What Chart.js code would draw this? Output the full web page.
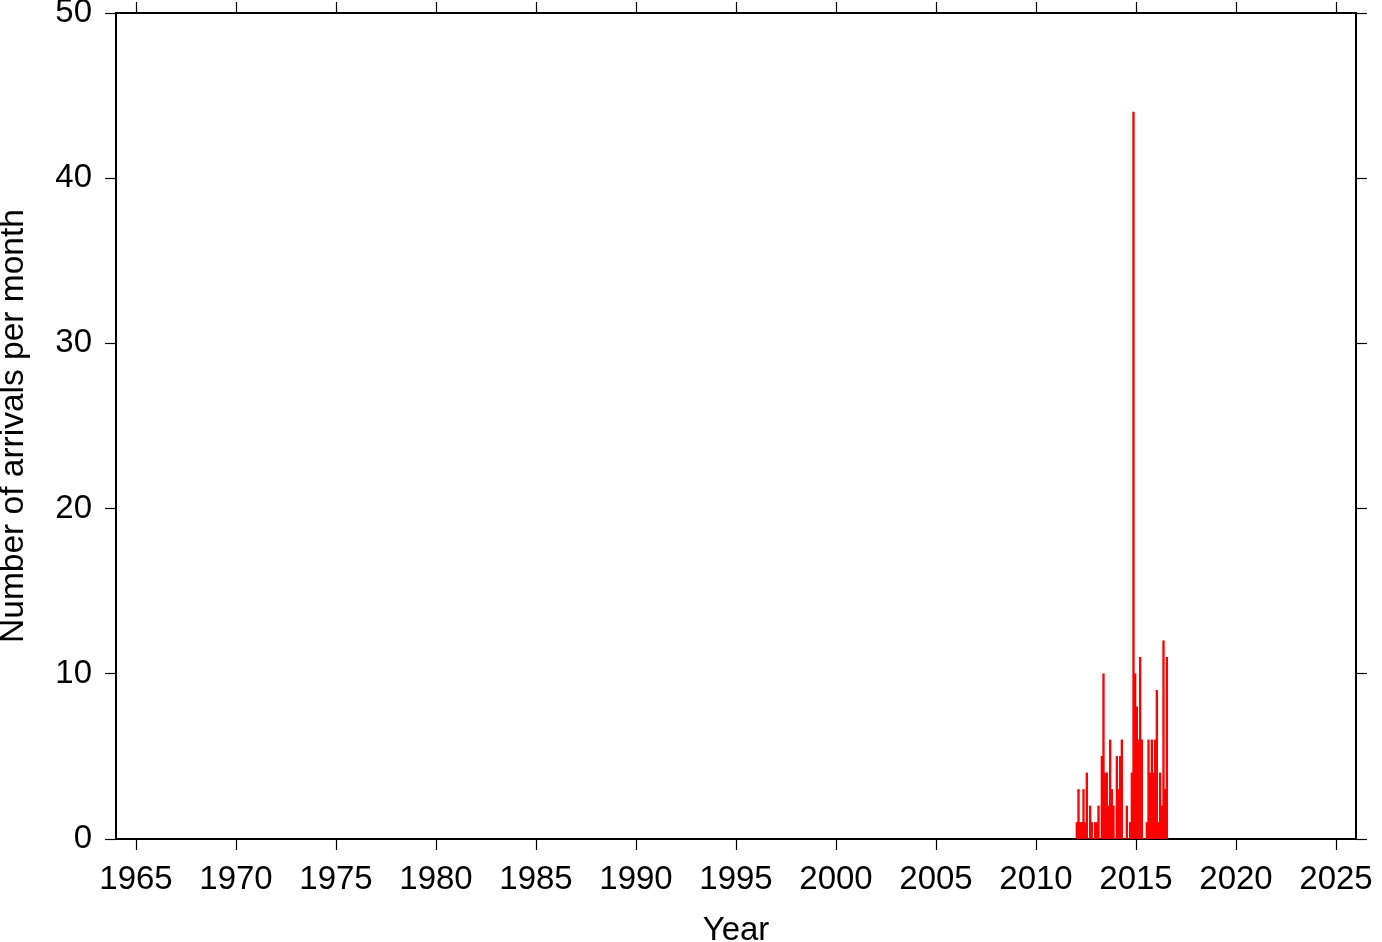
<!DOCTYPE html>
<html>
<head>
<meta charset="utf-8">
<script src="https://cdn.jsdelivr.net/npm/chart.js@4/dist/chart.umd.min.js"></script>
<style>
  html, body { margin: 0; padding: 0; background: #fff; }
  #wrap { width: 1382px; height: 942px; }
</style>
</head>
<body>
<div id="wrap"><canvas id="c" width="1382" height="942"></canvas></div>
<script>
// Months (YYYY-MM) with the number of arrivals per month
const months = [
  "2012-01","2012-02","2012-03","2012-04","2012-05","2012-06","2012-07","2012-08","2012-09","2012-10","2012-11","2012-12",
  "2013-01","2013-02","2013-03","2013-04","2013-05","2013-06","2013-07","2013-08","2013-09","2013-10","2013-11","2013-12",
  "2014-01","2014-02","2014-03","2014-04","2014-05","2014-06","2014-07","2014-08","2014-09","2014-10","2014-11","2014-12",
  "2015-01","2015-02","2015-03","2015-04","2015-05","2015-06","2015-07","2015-08","2015-09","2015-10","2015-11","2015-12",
  "2016-01","2016-02","2016-03","2016-04","2016-05","2016-06","2016-07"
];
const arrivals = [
  1, 3, 1, 1, 3, 1, 4, 0, 2, 1, 0, 1,
  1, 2, 0, 5, 10, 4, 4, 2, 6, 3, 2, 0,
  5, 3, 5, 6, 0, 0, 2, 0, 1, 4, 44, 10,
  8, 6, 11, 6, 0, 0, 1, 6, 4, 6, 4, 6,
  9, 1, 4, 2, 12, 3, 11
];
const xTickValues = [1965, 1970, 1975, 1980, 1985, 1990, 1995, 2000, 2005, 2010, 2015, 2020, 2025];
const yTickValues = [0, 10, 20, 30, 40, 50];
const xMin = 1964, xMax = 2026;
const yMin = 0, yMax = 50;

const points = months.map((m, i) => {
  const [yy, mm] = m.split("-").map(Number);
  return { x: yy + (mm - 0.5) / 12, y: arrivals[i] };
});

const FONT = "'Liberation Sans', Arial, Helvetica, sans-serif";
const setTicks = vals => scale => { scale.ticks = vals.map(v => ({ value: v })); };
const fixSize = (prop, val) => s => {
  s[prop] = val;
  s.paddingTop = 0; s.paddingBottom = 0; s.paddingLeft = 0; s.paddingRight = 0;
};

const gridOpts = {
  drawOnChartArea: false,
  drawTicks: true,
  offset: false,
  tickLength: 11,
  tickWidth: 1.2,
  tickColor: "#000",
  color: "#000"
};
const borderOpts = { display: true, color: "#000", width: 2 };

new Chart(document.getElementById("c"), {
  type: "bar",
  data: {
    datasets: [{
      data: points,
      backgroundColor: "#ff0000",
      borderWidth: 0,
      barPercentage: 1,
      categoryPercentage: 1,
      xAxisID: "x",
      yAxisID: "y"
    }]
  },
  options: {
    responsive: false,
    animation: false,
    devicePixelRatio: 1,
    layout: { padding: 0 },
    plugins: { legend: { display: false }, tooltip: { enabled: false } },
    scales: {
      x: {
        type: "linear", position: "bottom", min: xMin, max: xMax, offset: false,
        afterBuildTicks: setTicks(xTickValues),
        afterFit: fixSize("height", 103),
        grid: gridOpts, border: borderOpts,
        ticks: { color: "#000", padding: 10, maxRotation: 0, autoSkip: false,
                 font: { family: FONT, size: 33 }, callback: v => String(v) },
        title: { display: true, text: "Year", color: "#000", padding: 0,
                 font: { family: FONT, size: 33, lineHeight: 0.7 } }
      },
      x2: {
        type: "linear", position: "top", min: xMin, max: xMax, offset: false,
        afterBuildTicks: setTicks(xTickValues),
        afterFit: fixSize("height", 13),
        grid: gridOpts, border: borderOpts,
        ticks: { display: false }
      },
      y: {
        type: "linear", position: "left", min: yMin, max: yMax,
        afterBuildTicks: setTicks(yTickValues),
        afterFit: fixSize("width", 116),
        grid: gridOpts, border: borderOpts,
        ticks: { color: "#000", padding: 13, font: { family: FONT, size: 33 },
                 callback: v => String(v) },
        title: { display: true, text: "Number of arrivals per month", color: "#000", padding: 0,
                 font: { family: FONT, size: 33.5, lineHeight: 0.85 } }
      },
      y2: {
        type: "linear", position: "right", min: yMin, max: yMax,
        afterBuildTicks: setTicks(yTickValues),
        afterFit: fixSize("width", 26),
        grid: gridOpts, border: borderOpts,
        ticks: { display: false }
      }
    }
  }
});
</script>
</body>
</html>
